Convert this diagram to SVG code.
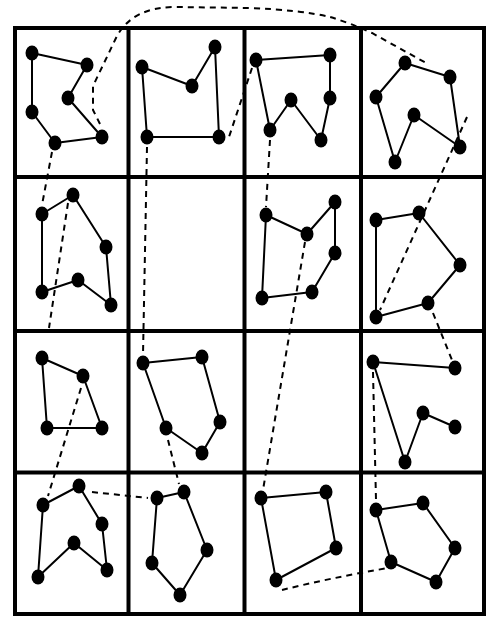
<svg xmlns="http://www.w3.org/2000/svg" width="486" height="617" viewBox="0 0 486 617">
<style>
.grid{fill:none;stroke:#000;stroke-width:4}
.edge{fill:none;stroke:#000;stroke-width:2;stroke-linejoin:round}
.dash{fill:none;stroke:#000;stroke-width:2;stroke-dasharray:6 5}
.dot{fill:#000}
</style>
<defs>
<ellipse id="d" cx="0" cy="0" rx="6.5" ry="7.5" class="dot"/>
</defs>
<rect width="486" height="617" fill="#fff"/>
<g id="grid">
<rect class="grid" x="15" y="28" width="469" height="586" stroke-width="4.5"/>
<line class="grid" x1="128.5" y1="28" x2="128.5" y2="614"/>
<line class="grid" x1="244.5" y1="28" x2="244.5" y2="614"/>
<line class="grid" x1="361" y1="28" x2="361" y2="614"/>
<line class="grid" x1="15" y1="177" x2="484" y2="177"/>
<line class="grid" x1="15" y1="331" x2="484" y2="331"/>
<line class="grid" x1="15" y1="472.5" x2="484" y2="472.5"/>
</g>
<g id="connectors">
<path class="dash" d="M100,124 L93,110 L93,86 L116,38 Q124,22 140,14 Q155,7 175,7 L250,8 Q300,10 330,17 Q350,23 372,33 L428,64"/>
<path class="dash" d="M52,152 L42,205"/>
<path class="dash" d="M68,203 L49,328"/>
<path class="dash" d="M81,388 L48,496"/>
<path class="dash" d="M92,492 L148,498"/>
<path class="dash" d="M147,147 L143,355"/>
<path class="dash" d="M168,440 L179,484"/>
<path class="dash" d="M252,68 L228,140"/>
<path class="dash" d="M270,140 L266,207"/>
<path class="dash" d="M305,242 L263,490"/>
<path class="dash" d="M467,117 L380,310"/>
<path class="dash" d="M433,313 L452,360"/>
<path class="dash" d="M373,372 L376,500"/>
<path class="dash" d="M282,590 Q330,578 388,568"/>
</g>
<g id="cell-0-0">
<polygon class="edge" points="32,53 87,65 68,98 102,137 55,143 32,112"/>
<use href="#d" x="32" y="53"/><use href="#d" x="87" y="65"/><use href="#d" x="68" y="98"/><use href="#d" x="102" y="137"/><use href="#d" x="55" y="143"/><use href="#d" x="32" y="112"/>
</g>
<g id="cell-0-1">
<polygon class="edge" points="142,67 192,86 215,47 219,137 147,137"/>
<use href="#d" x="142" y="67"/><use href="#d" x="192" y="86"/><use href="#d" x="215" y="47"/><use href="#d" x="219" y="137"/><use href="#d" x="147" y="137"/>
</g>
<g id="cell-0-2">
<polygon class="edge" points="256,60 330,55 330,98 321,140 291,100 270,130"/>
<use href="#d" x="256" y="60"/><use href="#d" x="330" y="55"/><use href="#d" x="330" y="98"/><use href="#d" x="321" y="140"/><use href="#d" x="291" y="100"/><use href="#d" x="270" y="130"/>
</g>
<g id="cell-0-3">
<polygon class="edge" points="405,63 450,77 460,147 414,115 395,162 376,97"/>
<use href="#d" x="405" y="63"/><use href="#d" x="450" y="77"/><use href="#d" x="460" y="147"/><use href="#d" x="414" y="115"/><use href="#d" x="395" y="162"/><use href="#d" x="376" y="97"/>
</g>
<g id="cell-1-0">
<polygon class="edge" points="42,214 73,195 106,247 111,305 78,280 42,292"/>
<use href="#d" x="42" y="214"/><use href="#d" x="73" y="195"/><use href="#d" x="106" y="247"/><use href="#d" x="111" y="305"/><use href="#d" x="78" y="280"/><use href="#d" x="42" y="292"/>
</g>
<g id="cell-1-2">
<polygon class="edge" points="266,215 307,234 335,202 335,253 312,292 262,298"/>
<use href="#d" x="266" y="215"/><use href="#d" x="307" y="234"/><use href="#d" x="335" y="202"/><use href="#d" x="335" y="253"/><use href="#d" x="312" y="292"/><use href="#d" x="262" y="298"/>
</g>
<g id="cell-1-3">
<polygon class="edge" points="376,220 419,213 460,265 428,303 376,317"/>
<use href="#d" x="376" y="220"/><use href="#d" x="419" y="213"/><use href="#d" x="460" y="265"/><use href="#d" x="428" y="303"/><use href="#d" x="376" y="317"/>
</g>
<g id="cell-2-0">
<polygon class="edge" points="42,358 83,376 102,428 47,428"/>
<use href="#d" x="42" y="358"/><use href="#d" x="83" y="376"/><use href="#d" x="102" y="428"/><use href="#d" x="47" y="428"/>
</g>
<g id="cell-2-1">
<polygon class="edge" points="143,363 202,357 220,422 202,453 166,428"/>
<use href="#d" x="143" y="363"/><use href="#d" x="202" y="357"/><use href="#d" x="220" y="422"/><use href="#d" x="202" y="453"/><use href="#d" x="166" y="428"/>
</g>
<g id="cell-2-3">
<polyline class="edge" points="455,368 373,362 405,462 423,413 455,427"/>
<use href="#d" x="455" y="368"/><use href="#d" x="373" y="362"/><use href="#d" x="405" y="462"/><use href="#d" x="423" y="413"/><use href="#d" x="455" y="427"/>
</g>
<g id="cell-3-0">
<polygon class="edge" points="43,505 79,486 102,524 107,570 74,543 38,577"/>
<use href="#d" x="43" y="505"/><use href="#d" x="79" y="486"/><use href="#d" x="102" y="524"/><use href="#d" x="107" y="570"/><use href="#d" x="74" y="543"/><use href="#d" x="38" y="577"/>
</g>
<g id="cell-3-1">
<polygon class="edge" points="157,498 184,492 207,550 180,595 152,563"/>
<use href="#d" x="157" y="498"/><use href="#d" x="184" y="492"/><use href="#d" x="207" y="550"/><use href="#d" x="180" y="595"/><use href="#d" x="152" y="563"/>
</g>
<g id="cell-3-2">
<polygon class="edge" points="261,498 326,492 336,548 276,580"/>
<use href="#d" x="261" y="498"/><use href="#d" x="326" y="492"/><use href="#d" x="336" y="548"/><use href="#d" x="276" y="580"/>
</g>
<g id="cell-3-3">
<polygon class="edge" points="376,510 423,503 455,548 436,582 391,562"/>
<use href="#d" x="376" y="510"/><use href="#d" x="423" y="503"/><use href="#d" x="455" y="548"/><use href="#d" x="436" y="582"/><use href="#d" x="391" y="562"/>
</g>
</svg>
